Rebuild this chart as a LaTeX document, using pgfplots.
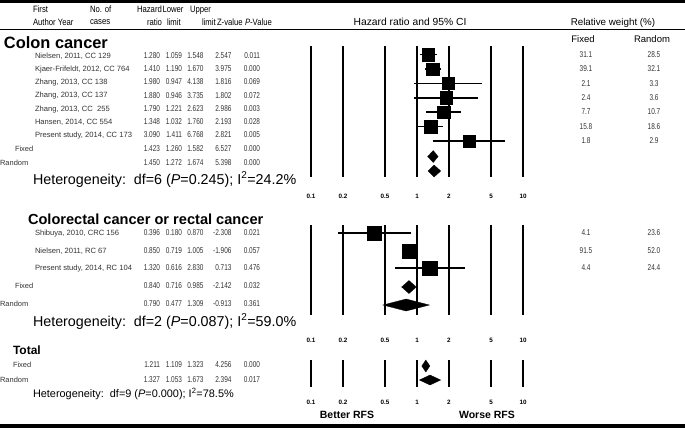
\documentclass[border=0pt]{standalone}
\usepackage{pgfplots}
\pgfplotsset{compat=1.18}
\usepackage{fontspec}
\setmainfont{Liberation Sans}
\newfontfamily\narrowsans[FakeStretch=0.76]{Liberation Sans}
\newfontfamily\hdsans[FakeStretch=0.84]{Liberation Sans}
\newcommand\fs[1]{\fontsize{#1}{#1}\selectfont}
\tikzset{
  t/.style={inner sep=0pt, outer sep=0pt, text depth=0pt},
  lab/.style={t, font=\fs{7.6}, text=black!80},
  flab/.style={t, font=\fs{7.5}, text=black!80},
  num/.style={t, font=\narrowsans\fs{8.5}, text=black!80},
  hd/.style={t, font=\hdsans\fs{9.2}},
}
% y, x, label, hr, lo, hi, z, p
\newcommand\trow[8]{%
  \node[lab,anchor=west] at (#2,#1) {#3};
  \node[num,anchor=east] at (160,#1) {#4};
  \node[num,anchor=east] at (182,#1) {#5};
  \node[num,anchor=east] at (203.5,#1) {#6};
  \node[num,anchor=east] at (231.5,#1) {#7};
  \node[num,anchor=east] at (260,#1) {#8};
}
\newcommand\frow[8]{%
  \node[flab,anchor=west] at (#2,#1) {#3};
  \node[num,anchor=east] at (160,#1) {#4};
  \node[num,anchor=east] at (182,#1) {#5};
  \node[num,anchor=east] at (203.5,#1) {#6};
  \node[num,anchor=east] at (231.5,#1) {#7};
  \node[num,anchor=east] at (260,#1) {#8};
}
\newcommand\wrow[3]{%
  \node[num] at (586,#1) {#2};
  \node[num] at (654,#1) {#3};
}
\begin{document}
\begin{tikzpicture}
\begin{scope}[x=1pt,y=-1pt]
\path[use as bounding box] (0,0) rectangle (685,429);
% rules
\fill[black] (0,0) rectangle (685,2.8);
\fill[black] (0,28.6) rectangle (685,30.4);
\fill[black] (0,423.8) rectangle (685,428);
% header
\node[hd,anchor=west] at (33,9) {First};
\node[hd,anchor=west] at (33,22) {Author Year};
\node[hd,anchor=west] at (90,9) {No. of};
\node[hd,anchor=west] at (90,22) {cases};
\node[hd,anchor=west] at (137,9) {Hazard};
\node[hd,anchor=west] at (147,22) {ratio};
\node[hd,anchor=west] at (162.5,9) {Lower};
\node[hd,anchor=west] at (167,22) {limit};
\node[hd,anchor=west] at (190,9) {Upper};
\node[hd,anchor=west] at (202,22) {limit};
\node[hd,anchor=west] at (217,22) {Z-value};
\node[hd,anchor=west] at (245,22) {\textit{P}-Value};
\node[t,font=\fs{10.3}] at (410,22) {Hazard ratio and 95\% CI};
\node[t,font=\fs{9.8}] at (613,22) {Relative weight (\%)};
\node[t,font=\fs{9.5}] at (583,39) {Fixed};
\node[t,font=\fs{9.5}] at (652,39) {Random};
% Colon cancer
\node[t,anchor=west,font=\bfseries\fs{16.4}] at (4,43) {Colon cancer};
\trow{55.5}{35}{Nielsen, 2011, CC 129}{1.280}{1.059}{1.548}{2.547}{0.011}
\trow{68.7}{35}{Kjaer-Frifeldt, 2012, CC 764}{1.410}{1.190}{1.670}{3.975}{0.000}
\trow{81.9}{35}{Zhang, 2013, CC 138}{1.980}{0.947}{4.138}{1.816}{0.069}
\trow{95.1}{35}{Zhang, 2013, CC 137}{1.880}{0.946}{3.735}{1.802}{0.072}
\trow{108.3}{35}{Zhang, 2013, CC\ \ 255}{1.790}{1.221}{2.623}{2.986}{0.003}
\trow{121.5}{35}{Hansen, 2014, CC 554}{1.348}{1.032}{1.760}{2.193}{0.028}
\trow{134.7}{35}{Present study, 2014, CC 173}{3.090}{1.411}{6.768}{2.821}{0.005}
\frow{149}{15}{Fixed}{1.423}{1.260}{1.582}{6.527}{0.000}
\frow{163}{0}{Random}{1.450}{1.272}{1.674}{5.398}{0.000}
\node[t,anchor=west,font=\fs{14.3}] at (33,178) {Heterogeneity:\ \ df=6 (\textit{P}=0.245); I\textsuperscript{2}=24.2\%};
\wrow{54.5}{31.1}{28.5}
\wrow{69}{39.1}{32.1}
\wrow{83.3}{2.1}{3.3}
\wrow{97.7}{2.4}{3.6}
\wrow{112}{7.7}{10.7}
\wrow{126.5}{15.8}{18.6}
\wrow{141}{1.8}{2.9}
% Colorectal
\node[t,anchor=west,font=\bfseries\fs{14.6}] at (28,219) {Colorectal cancer or rectal cancer};
\trow{233}{35}{Shibuya, 2010, CRC 156}{0.396}{0.180}{0.870}{-2.308}{0.021}
\trow{251}{35}{Nielsen, 2011, RC 67}{0.850}{0.719}{1.005}{-1.906}{0.057}
\trow{268}{35}{Present study, 2014, RC 104}{1.320}{0.616}{2.830}{0.713}{0.476}
\frow{286}{15}{Fixed}{0.840}{0.716}{0.985}{-2.142}{0.032}
\frow{304}{0}{Random}{0.790}{0.477}{1.309}{-0.913}{0.361}
\node[t,anchor=west,font=\fs{14.3}] at (33,320) {Heterogeneity:\ \ df=2 (\textit{P}=0.087); I\textsuperscript{2}=59.0\%};
\wrow{233}{4.1}{23.6}
\wrow{251}{91.5}{52.0}
\wrow{268}{4.4}{24.4}
% Total
\node[t,anchor=west,font=\bfseries\fs{12}] at (13,350) {Total};
\frow{365}{13}{Fixed}{1.211}{1.109}{1.323}{4.256}{0.000}
\frow{380}{0}{Random}{1.327}{1.053}{1.673}{2.394}{0.017}
\node[t,anchor=west,font=\fs{10.9}] at (33,393) {Heterogeneity:\ \ df=9 (\textit{P}=0.000); I\textsuperscript{2}=78.5\%};
\node[t,font=\bfseries\fs{10.5}] at (347,415) {Better RFS};
\node[t,font=\bfseries\fs{10.5}] at (487,415) {Worse RFS};
\end{scope}

\begin{axis}[
  at={(294.58pt,-429pt)}, anchor=south west,
  scale only axis, width=243.91pt, height=429pt,
  xmode=log, xmin=0.07, xmax=14,
  ymin=0, ymax=429, y dir=reverse,
  hide axis, clip=false,
  ci/.style={black, line width=1.6pt},
  dia/.style={black, fill=black, line width=0.3pt},
]
\pgfplotsinvokeforeach{0.1,0.2,0.5,1,2,5,10}{
  \addplot[black, line width=2.6pt] coordinates {(#1,46) (#1,177)};
  \addplot[black, line width=2.6pt] coordinates {(#1,225) (#1,315)};
  \addplot[black, line width=2.2pt] coordinates {(#1,360) (#1,387)};
  \node[t,font=\bfseries\fs{6.3}] at (axis cs:#1,196) {#1};
  \node[t,font=\bfseries\fs{6.3}] at (axis cs:#1,340) {#1};
  \node[t,font=\bfseries\fs{6.3}] at (axis cs:#1,402) {#1};
}
% colon cancer studies
\addplot[ci] coordinates {(1.059,54.5) (1.548,54.5)};
\addplot[ci] coordinates {(1.190,69) (1.670,69)};
\addplot[ci] coordinates {(0.947,83.3) (4.138,83.3)};
\addplot[ci] coordinates {(0.946,97.7) (3.735,97.7)};
\addplot[ci] coordinates {(1.221,112) (2.623,112)};
\addplot[ci] coordinates {(1.032,126.5) (1.760,126.5)};
\addplot[ci] coordinates {(1.411,141) (6.768,141)};
\addplot[only marks, mark=square*, mark size=6.2pt, mark options={fill=black, draw=black}]
  coordinates {(1.280,54.5) (1.410,69) (1.980,83.3) (1.880,97.7) (1.790,112) (1.348,126.5) (3.090,141)};
\addplot[dia] coordinates {(1.260,156.5) (1.423,150.5) (1.582,156.5) (1.423,162.5)} -- cycle;
\addplot[dia] coordinates {(1.272,171) (1.450,165) (1.674,171) (1.450,177)} -- cycle;
% colorectal studies
\addplot[ci] coordinates {(0.180,233) (0.870,233)};
\addplot[ci] coordinates {(0.719,251) (1.005,251)};
\addplot[ci] coordinates {(0.616,268) (2.830,268)};
\addplot[only marks, mark=square*, mark size=7.2pt, mark options={fill=black, draw=black}]
  coordinates {(0.396,233) (0.850,251) (1.320,268)};
\addplot[dia] coordinates {(0.716,287) (0.840,280.5) (0.985,287) (0.840,293.5)} -- cycle;
\addplot[dia] coordinates {(0.477,305) (0.790,299) (1.309,305) (0.790,311)} -- cycle;
% total
\addplot[dia] coordinates {(1.109,366) (1.211,360) (1.323,366) (1.211,372)} -- cycle;
\addplot[dia] coordinates {(1.053,380) (1.327,375) (1.673,380) (1.327,385)} -- cycle;
\end{axis}
\end{tikzpicture}
\end{document}
